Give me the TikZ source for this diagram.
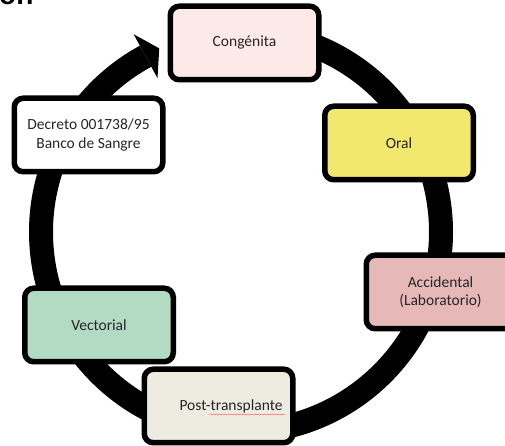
\documentclass[tikz,border=0pt]{standalone}
\usepackage{fontspec}
\setmainfont{Carlito}
\newfontfamily\titlefont{Liberation Sans}
\usetikzlibrary{calc,decorations.pathmorphing}
\definecolor{congcol}{HTML}{FDE9E7}
\definecolor{oralcol}{HTML}{F2E86D}
\definecolor{acccol}{HTML}{E6B9B8}
\definecolor{veccol}{HTML}{B3DBC4}
\definecolor{postcol}{HTML}{EEECE1}
\definecolor{txtcol}{HTML}{262626}
\tikzset{
  boxnode/.style={draw=black, line width=5.5pt, rounded corners=9pt, inner sep=0pt,
    minimum width=148.5pt, minimum height=73.5pt, align=center, text=txtcol,
    font=\fontsize{15.5}{18.5}\selectfont},
  ringline/.style={line width=24pt, draw=black, line cap=butt}
}
\begin{document}
\begin{tikzpicture}[x=1pt,y=1pt]
\useasboundingbox (0,0) rectangle (505,446);
\clip (0,0) rectangle (505,446);
\fill[white] (0,0) rectangle (505,446);
% partial title
\node[anchor=base west, inner sep=0pt, font=\titlefont\bfseries\fontsize{28}{30}\selectfont] (title) at (-1,441.5) {on};
% ring
\coordinate (c) at (241,214);
\draw[ringline] ($(c)+(90:200)$) arc[start angle=90, end angle=-241.5, radius=200];
\fill[black] ($(c)+(118.5:225)$) -- ($(c)+(114:201)$) -- ($(c)+(118.5:175)$) -- cycle;
% boxes
\node[boxnode, fill=congcol] (cong) at (244.5,403) {Congénita};
\node[boxnode, fill=oralcol] (oral) at (399,303) {Oral};
\node[boxnode, fill=acccol] (acc) at (440.5,154) {Accidental\\(Laboratorio)};
\node[boxnode, fill=veccol] (vec) at (99,121) {Vectorial};
\node[boxnode, fill=postcol] (post) at (218.5,40) {\hspace*{25pt}Post-transplante};
\node[boxnode, fill=white] (dec) at (88.5,311) {Decreto 001738/95\\Banco de Sangre};
% spell-check squiggle
\draw[red!55, line width=0.6pt, decoration={snake, segment length=3pt, amplitude=0.5pt}, decorate]
  ($(post.center)+(-9,-8.5)$) -- ($(post.center)+(66,-8.5)$);
\end{tikzpicture}
\end{document}
